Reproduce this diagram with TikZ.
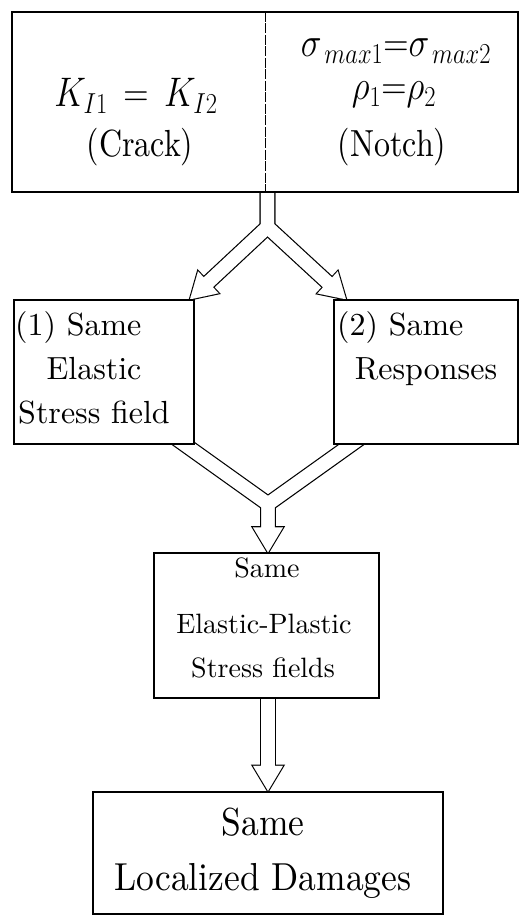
\RequirePackage{fix-cm}
\documentclass[tikz,border=0pt]{standalone}
\usepackage{fontspec}
\setmainfont{lmroman10-regular.otf}
\usepackage{amsmath}
\usepackage{tikz}
\usetikzlibrary{calc,backgrounds}
\newcommand{\tallA}[1]{\scalebox{1}[1.18]{#1}}
\newcommand{\tallB}[1]{\scalebox{1}[1.1]{#1}}
\tikzstyle{thickbox}=[draw, fill=white, line width=2.4pt, inner sep=0pt]
\tikzstyle{thinbox}=[draw, fill=white, line width=1.3pt, inner sep=0pt]
\tikzstyle{halfbox}=[fill=white, inner sep=0pt, minimum width=253pt, minimum height=180pt]
\tikzstyle{txt}=[anchor=base, inner sep=0pt]
\tikzstyle{toptxt}=[txt, font=\fontsize{32}{38}\selectfont]
\tikzstyle{mathtxt}=[txt, font=\fontsize{35}{42}\selectfont]
\tikzstyle{midtxt}=[txt, font=\fontsize{32}{38}\selectfont]
\tikzstyle{lowtxt}=[txt, font=\fontsize{28}{34}\selectfont]
\tikzstyle{endtxt}=[txt, font=\fontsize{35.5}{42}\selectfont]

\begin{document}
\begin{tikzpicture}[x=1pt, y=-1pt]
  \useasboundingbox (0,0) rectangle (527,917);
  % boxes
  \node[halfbox] (crack) at (138.5,102) {};
  \node[halfbox] (notch) at (391.5,102) {};
  \draw[line width=2.4pt] (crack.north west) rectangle (notch.south east);
  \draw[line width=1.2pt, dash pattern=on 10pt off 1.5pt] (crack.north east) -- (crack.south east);
  \node[thinbox, minimum width=180pt, minimum height=144pt] (elastic) at (104,372) {};
  \node[thinbox, minimum width=184pt, minimum height=144pt] (resp) at (426,372) {};
  \node[thinbox, minimum width=225pt, minimum height=145pt] (plastic) at (266.5,625.5) {};
  \node[thickbox, minimum width=350pt, minimum height=122pt] (damage) at (268,853) {};
  % texts
  \node[mathtxt] (kline) at (136,107) {\tallA{$K_{I1}\,=\,K_{I2}$}};
  \node[toptxt] (crk) at (140,157) {\tallA{(Crack)}};
  \node[mathtxt] (sline) at (396,57) {\tallA{$\sigma_{\,max1}{=}\sigma_{\,max2}$}};
  \node[mathtxt] (rline) at (394,100) {\tallA{$\rho_1{=}\rho_2$}};
  \node[toptxt] (ntc) at (392,157) {\tallA{(Notch)}};
  \node[midtxt, anchor=base west] (one) at (15,335) {(1) Same};
  \node[midtxt] (el) at (94,379) {Elastic};
  \node[midtxt] (sf) at (94,423) {Stress field};
  \node[midtxt, anchor=base west] (two) at (337,335) {(2) Same};
  \node[midtxt] (rs) at (426,379) {Responses};
  \node[lowtxt] (same3) at (267,577) {Same};
  \node[lowtxt] (ep) at (264,633) {Elastic-Plastic};
  \node[lowtxt] (sfs) at (263,677) {Stress fields};
  \node[endtxt] (same4) at (263,835) {\tallB{Same}};
  \node[endtxt] (loc) at (263,890) {\tallB{Localized Damages}};
  % hollow arrows
  \coordinate (s1) at (267.5,150);
  \coordinate (j1) at (267.5,227);
  \coordinate (t1) at (190,0 |- elastic.north);
  \coordinate (t2) at (346,0 |- resp.north);
  \coordinate (s2) at (142,414);
  \coordinate (s3) at (394,414);
  \coordinate (j2) at (268,504);
  \coordinate (t3) at (268,0 |- plastic.north);
  \coordinate (s4) at (268,690);
  \coordinate (t4) at (268,0 |- damage.north);
  \foreach \t/\f in {t1/j1, t2/j1, t3/j2, t4/s4}{
    \coordinate (\t e) at ($(\t)!20pt!(\f)$);
    \coordinate (\t b) at ($(\t)!25pt!(\f)$);
    \coordinate (\t l) at ($(\t b)!15pt!90:(\t)$);
    \coordinate (\t r) at ($(\t b)!15pt!-90:(\t)$);
  }
  \begin{scope}[on background layer]
    \foreach \c/\w/\hw in {black/15.8/2.4, white/13.4/0.01}{
      \draw[color=\c, line width=\w pt] (s1) -- (j1) -- (t1e);
      \draw[color=\c, line width=\w pt] (s1) -- (j1) -- (t2e);
      \draw[color=\c, line width=\w pt] (s2) -- (j2) -- (t3e);
      \draw[color=\c, line width=\w pt] (s3) -- (j2) -- (t3e);
      \draw[color=\c, line width=\w pt] (s4) -- (t4e);
      \foreach \t in {t1, t2, t3, t4}
        \filldraw[color=\c, line width=\hw pt] (\t) -- (\t l) -- (\t r) -- cycle;
    }
  \end{scope}
\end{tikzpicture}
\end{document}
